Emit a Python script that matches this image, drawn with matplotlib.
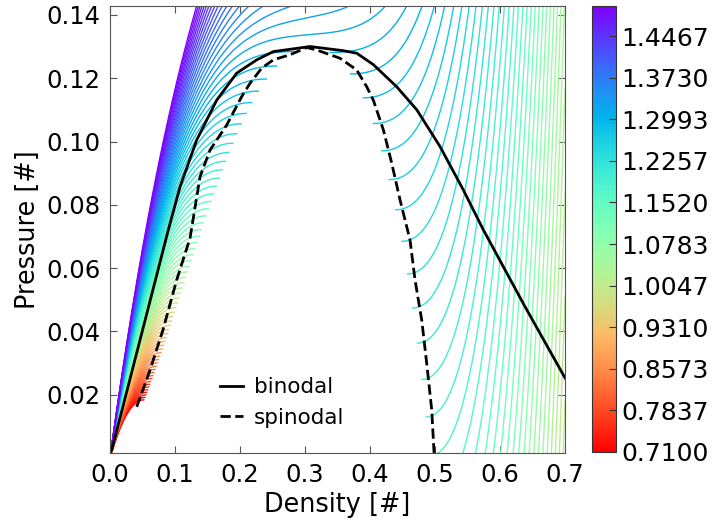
import numpy as np
import matplotlib
matplotlib.use("Agg")
import matplotlib.pyplot as plt
from matplotlib import cm, colors

# ---- data -------------------------------------------------------------
# isotherm temperatures (reduced units) read from the colour scale
temperatures = [round(0.71 + 0.01 * i, 2) for i in range(80)]

# Lennard-Jones MBWR equation of state coefficients (Johnson et al. 1993)
mbwr_x = [0.8623085097507421, 2.976218765822098, -8.402230115796038,
          0.1054136629203555, -0.8564583828174598, 1.582759470107601,
          0.7639421948305453, 1.753173414312048, 2798.291772190376,
          -0.048394220260857657, 0.9963265197721935, -36.98000291272493,
          20.84012299434647, 83.05402124717285, -957.4799715203068,
          -147.7746229234994, 63.98607852471505, 16.03993673294834,
          68.05916615864377, -2791.293578795945, -6.245128304568454,
          -8116.836104958410, 14.88735559561229, -10593.46754655084,
          -113.1607632802822, -8867.771540418822, -39.86982844450543,
          -4689.270299917261, 259.3535277438717, -2694.523589434903,
          -721.8487631550215, 172.1802063863269]
mbwr_gamma = 3.0

binodal_rho = [0.0, 0.0026, 0.0897, 0.1077, 0.1334, 0.1642, 0.1949, 0.2257,
               0.2512, 0.3077, 0.3585, 0.3795, 0.405, 0.441, 0.472, 0.5077,
               0.5435, 0.5743, 0.6369, 0.70]
binodal_p = [0.0016, 0.0025, 0.0721, 0.0857, 0.1005, 0.1131, 0.1216, 0.1258,
             0.1284, 0.1300, 0.1287, 0.1279, 0.1243, 0.1173, 0.1100, 0.0984,
             0.0847, 0.0721, 0.0484, 0.0253]

spinodal_rho = [0.0411, 0.0615, 0.0815, 0.1026, 0.1231, 0.1385, 0.1538,
                0.1795, 0.2026, 0.2154, 0.2334, 0.2512, 0.2769, 0.3026,
                0.318, 0.3538, 0.3795, 0.3949, 0.405, 0.4205, 0.4334, 0.4462,
                0.4615, 0.4692, 0.4795, 0.4872, 0.4949, 0.4985]
spinodal_p = [0.0162, 0.0278, 0.0405, 0.0563, 0.0695, 0.0889, 0.0973,
              0.1052, 0.1142, 0.1184, 0.1232, 0.1258, 0.1274, 0.1297,
              0.1289, 0.1263, 0.1226, 0.1173, 0.1131, 0.1037, 0.0931, 0.0815,
              0.0689, 0.0563, 0.0436, 0.0299, 0.0152, 0.0016]

cbar_ticks = [0.7100, 0.7837, 0.8573, 0.9310, 1.0047, 1.0783, 1.1520,
              1.2257, 1.2993, 1.3730, 1.4467]
x_ticks = [0.0, 0.1, 0.2, 0.3, 0.4, 0.5, 0.6, 0.7]
y_ticks = [0.02, 0.04, 0.06, 0.08, 0.10, 0.12, 0.14]
t_min, t_max = 0.71, 1.50
x_limits = (0.0, 0.7)
y_limits = (0.0016, 0.1428)


def mbwr_pressure(rho, T):
    x = [None] + mbwr_x
    a = [x[1]*T + x[2]*np.sqrt(T) + x[3] + x[4]/T + x[5]/T**2,
         x[6]*T + x[7] + x[8]/T + x[9]/T**2,
         x[10]*T + x[11] + x[12]/T,
         x[13],
         x[14]/T + x[15]/T**2,
         x[16]/T,
         x[17]/T + x[18]/T**2,
         x[19]/T**2]
    b = [x[20]/T**2 + x[21]/T**3,
         x[22]/T**2 + x[23]/T**4,
         x[24]/T**2 + x[25]/T**3,
         x[26]/T**2 + x[27]/T**4,
         x[28]/T**2 + x[29]/T**3,
         x[30]/T**2 + x[31]/T**3 + x[32]/T**4]
    F = np.exp(-mbwr_gamma * rho**2)
    P = rho * T
    for i, ai in enumerate(a, start=1):
        P = P + ai * rho**(i + 1)
    for i, bi in enumerate(b, start=1):
        P = P + F * bi * rho**(2*i + 1)
    return P


# ---- figure -----------------------------------------------------------
plt.rcParams['font.family'] = ['DejaVu Sans']
fig = plt.figure(figsize=(7.13, 5.23), dpi=100)
ax = fig.add_axes([0.1543, 0.1338, 0.6382, 0.8547])
cax = fig.add_axes([0.8303, 0.1358, 0.0337, 0.8528])

cmap = plt.get_cmap('rainbow_r')
norm = colors.Normalize(vmin=t_min, vmax=t_max)

rho_grid = np.linspace(0.002, 0.7, 1400)
for T in temperatures:
    P = mbwr_pressure(rho_grid, T)
    dP = np.diff(P)
    col = cmap(norm(T))
    neg = np.where(dP < 0)[0]
    if len(neg) == 0:
        ax.plot(rho_grid, P, color=col, lw=1.0)
    else:
        i_max = neg[0]
        ax.plot(rho_grid[:i_max + 1], P[:i_max + 1], color=col, lw=1.0)
        pos_after = np.where(dP[i_max:] > 0)[0]
        if len(pos_after):
            i_min = i_max + pos_after[0]
            ax.plot(rho_grid[i_min:], P[i_min:], color=col, lw=1.0)

ax.plot(binodal_rho, binodal_p, color='black', lw=2, label='binodal')
ax.plot(spinodal_rho, spinodal_p, color='black', lw=2, ls='--',
        label='spinodal')

ax.set_xlim(*x_limits)
ax.set_ylim(*y_limits)
ax.set_xticks(x_ticks)
ax.set_yticks(y_ticks)
ax.set_xlabel('Density [#]', fontsize=18.4)
ax.set_ylabel('Pressure [#]', fontsize=18.4)
ax.tick_params(direction='in', length=5, width=0.8, labelsize=17.5,
               top=True, right=True, color='#555555', pad=7)
for s in ax.spines.values():
    s.set_color('#555555')

leg = ax.legend(loc='center', bbox_to_anchor=(0.378, 0.113), frameon=False,
                fontsize=15.5, handlelength=1.1, handletextpad=0.5,
                labelspacing=0.5)

sm = cm.ScalarMappable(norm=norm, cmap=cmap)
sm.set_array([])
cbar = fig.colorbar(sm, cax=cax, ticks=cbar_ticks)
cbar.ax.set_yticklabels(['%.4f' % t for t in cbar_ticks])
cbar.ax.tick_params(direction='in', length=5, labelsize=18, color='#333333',
                    pad=4)
cbar.outline.set_edgecolor('#333333')

fig.savefig('out.png', dpi=100)
